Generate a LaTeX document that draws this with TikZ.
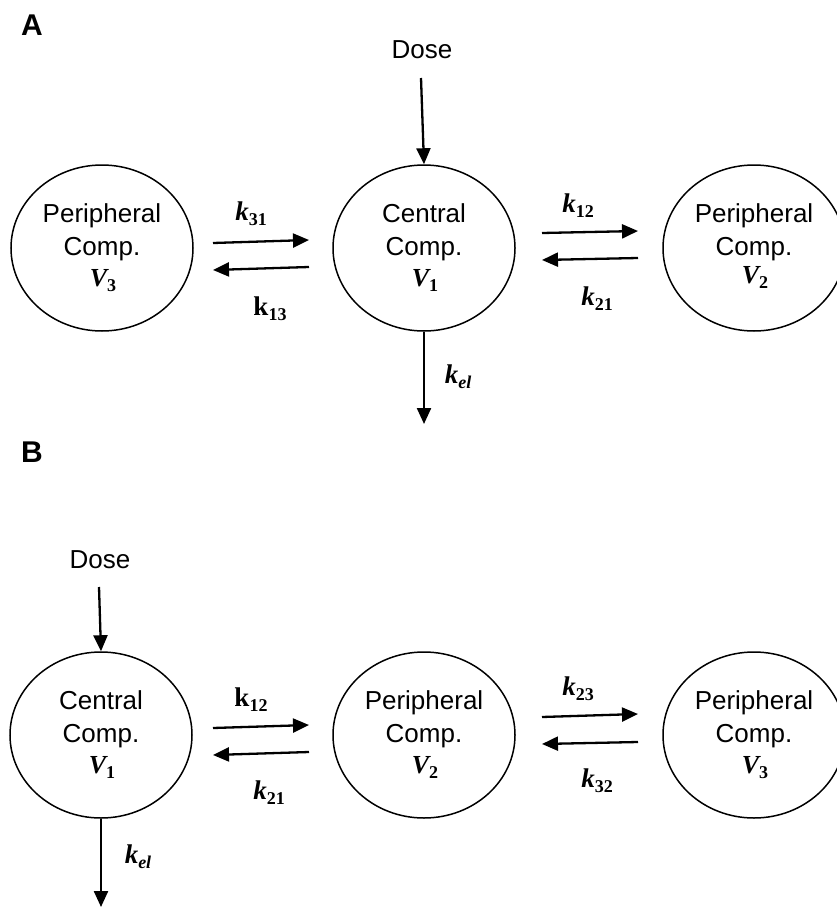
\documentclass[tikz,border=0pt]{standalone}
\usepackage{fontspec}
\setmainfont{Liberation Serif}
\setsansfont{Liberation Sans}
\usetikzlibrary{shapes.geometric,arrows.meta}
\newcommand\sbs[1]{\raisebox{-0.2em}{\fontsize{18}{18}\selectfont\textup{#1}}}
\newcommand\sbi[1]{\raisebox{-0.2em}{\fontsize{18}{18}\selectfont #1}}
\begin{document}
\begin{tikzpicture}[x=1pt,y=-1pt,
 comp/.style={ellipse,draw,line width=1.5pt,minimum width=182pt,minimum height=166pt,inner sep=0pt},
 lbl/.style={font=\sffamily\fontsize{26}{30}\selectfont,anchor=base,inner sep=0pt},
 vol/.style={font=\bfseries\itshape\fontsize{26}{30}\selectfont,anchor=base,inner sep=0pt},
 rate/.style={font=\bfseries\fontsize{27}{31}\selectfont,anchor=base,inner sep=0pt},
 panel/.style={font=\sffamily\bfseries\fontsize{30}{34}\selectfont,anchor=base west,inner sep=0pt},
 flow/.style={line width=2.3pt,-{Triangle[length=16pt,width=14pt]}},
]
\useasboundingbox (0,0) rectangle (836,907);
% ---------------- Panel A
\node[panel] (pA) at (21,36) {A};
\node[comp] (pA3) at (102,248) {};
\node[comp] (cA1) at (424,248) {};
\node[comp] (pA2) at (754,248) {};
\node[lbl] (tA3a) at (102,222) {Peripheral};
\node[lbl] (tA3b) at (102,255) {Comp.};
\node[vol] (vA3) at (103,286) {V\sbs{3}};
\node[lbl] (tA1a) at (424,222) {Central};
\node[lbl] (tA1b) at (424,255) {Comp.};
\node[vol] (vA1) at (425,286) {V\sbs{1}};
\node[lbl] (tA2a) at (754,222) {Peripheral};
\node[lbl] (tA2b) at (754,255) {Comp.};
\node[vol] (vA2) at (755,283) {V\sbs{2}};
\node[lbl] (doseA) at (422,59) {Dose};
\coordinate (dA) at (421,78);
\draw[flow] (dA) -- (cA1.north);
\coordinate (a31s) at (213,243); \coordinate (a31e) at (309,240);
\draw[flow] (a31s) -- (a31e);
\coordinate (a13s) at (309,267); \coordinate (a13e) at (213,270);
\draw[flow] (a13s) -- (a13e);
\coordinate (a12s) at (542,233); \coordinate (a12e) at (638,231);
\draw[flow] (a12s) -- (a12e);
\coordinate (a21s) at (638,258); \coordinate (a21e) at (542,260);
\draw[flow] (a21s) -- (a21e);
\coordinate (kelAe) at (424,424);
\draw[flow] (cA1.south) -- (kelAe);
\node[rate] (kA31) at (251,220) {\textit{k}\sbs{31}};
\node[rate] (kA13) at (270,315) {k\sbs{13}};
\node[rate] (kA12) at (578,212) {\textit{k}\sbs{12}};
\node[rate] (kA21) at (597,305) {\textit{k}\sbs{21}};
\node[rate] (kAel) at (458,383) {\textit{k}\sbi{\textit{el}}};
% ---------------- Panel B
\node[panel] (pB) at (21,462) {B};
\node[comp] (cB1) at (101,735) {};
\node[comp] (pB2) at (424,735) {};
\node[comp] (pB3) at (754,735) {};
\node[lbl] (tB1a) at (101,709) {Central};
\node[lbl] (tB1b) at (101,742) {Comp.};
\node[vol] (vB1) at (102,773) {V\sbs{1}};
\node[lbl] (tB2a) at (424,709) {Peripheral};
\node[lbl] (tB2b) at (424,742) {Comp.};
\node[vol] (vB2) at (425,773) {V\sbs{2}};
\node[lbl] (tB3a) at (754,709) {Peripheral};
\node[lbl] (tB3b) at (754,742) {Comp.};
\node[vol] (vB3) at (755,773) {V\sbs{3}};
\node[lbl] (doseB) at (100,568) {Dose};
\coordinate (dB) at (99,587);
\draw[flow] (dB) -- (cB1.north);
\coordinate (b12s) at (213,728); \coordinate (b12e) at (309,725);
\draw[flow] (b12s) -- (b12e);
\coordinate (b21s) at (309,752); \coordinate (b21e) at (213,755);
\draw[flow] (b21s) -- (b21e);
\coordinate (b23s) at (542,717); \coordinate (b23e) at (638,714);
\draw[flow] (b23s) -- (b23e);
\coordinate (b32s) at (638,742); \coordinate (b32e) at (542,744);
\draw[flow] (b32s) -- (b32e);
\coordinate (kelBe) at (101,907);
\draw[flow] (cB1.south) -- (kelBe);
\node[rate] (kB12) at (251,706) {k\sbs{12}};
\node[rate] (kB21) at (269,799) {\textit{k}\sbs{21}};
\node[rate] (kB23) at (578,695) {\textit{k}\sbs{23}};
\node[rate] (kB32) at (597,787) {\textit{k}\sbs{32}};
\node[rate] (kBel) at (138,863) {\textit{k}\sbi{\textit{el}}};
\end{tikzpicture}
\end{document}
